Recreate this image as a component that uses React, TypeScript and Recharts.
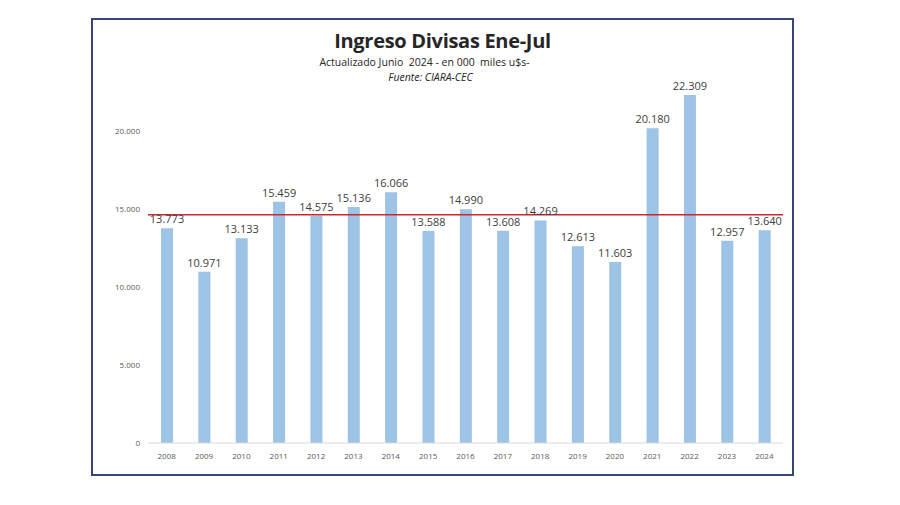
import { BarChart, Bar, XAxis, YAxis, ReferenceLine, LabelList } from 'recharts';

const years = ['2008', '2009', '2010', '2011', '2012', '2013', '2014', '2015', '2016', '2017', '2018', '2019', '2020', '2021', '2022', '2023', '2024'];
const ingreso = [13773, 10971, 13133, 15459, 14575, 15136, 16066, 13588, 14990, 13608, 14269, 12613, 11603, 20180, 22309, 12957, 13640];
const yTicks = [0, 5000, 10000, 15000, 20000];
const promedio = 14639;

const data = years.map((year, i) => ({ year, value: ingreso[i] }));

const fmt = (v: number) => {
  if (v === 0) return '0';
  const s = String(Math.round(v));
  return s.replace(/\B(?=(\d{3})+(?!\d))/g, '.');
};

const font = '"Open Sans", "Liberation Sans", sans-serif';

export default function App() {
  return (
    <div style={{ position: 'absolute', left: 0, top: 0, width: 900, height: 505, background: '#fff', fontFamily: font }}>
      <div
        style={{
          position: 'absolute',
          left: 91,
          top: 18,
          width: 703,
          height: 458,
          boxSizing: 'border-box',
          border: '2px solid #3a4478',
        }}
      />
      <div style={{ position: 'absolute', left: 91, width: 703, top: 27, textAlign: 'center', fontSize: 20, fontWeight: 700, color: '#262626', letterSpacing: -0.3 }}>
        Ingreso Divisas Ene-Jul
      </div>
      <div style={{ position: 'absolute', left: 73, width: 703, top: 55, textAlign: 'center', fontSize: 10.5, color: '#262626' }}>
        Actualizado Junio&nbsp; 2024 - en 000&nbsp; miles u$s-
      </div>
      <div style={{ position: 'absolute', left: 79, width: 703, top: 70, textAlign: 'center', fontSize: 10.5, fontStyle: 'italic', color: '#262626' }}>
        Fuente: CIARA-CEC
      </div>
      <div style={{ position: 'absolute', left: 0, top: 0 }}>
        <BarChart width={900} height={505} data={data} margin={{ top: 53, right: 117, bottom: 32, left: 98 }} barCategoryGap={0}>
          <XAxis
            dataKey="year"
            height={30}
            axisLine={{ stroke: '#d9d9d9' }}
            tickLine={false}
            tick={{ fill: '#595959', fontSize: 8, fontFamily: font }}
            tickMargin={4}
          />
          <YAxis
            width={50}
            domain={[0, 25000]}
            ticks={yTicks}
            axisLine={false}
            tickLine={false}
            tickFormatter={fmt}
            tick={{ fill: '#595959', fontSize: 8, fontFamily: font }}
          />
          <Bar dataKey="value" fill="#9dc3e6" barSize={12} isAnimationActive={false}>
            <LabelList
              dataKey="value"
              position="top"
              offset={5}
              formatter={(v: unknown) => fmt(Number(v))}
              style={{ fill: '#404040', fontSize: 11, fontFamily: font }}
            />
          </Bar>
          <ReferenceLine y={promedio} stroke="#d0262b" strokeWidth={1.5} ifOverflow="extendDomain" />
        </BarChart>
      </div>
    </div>
  );
}
